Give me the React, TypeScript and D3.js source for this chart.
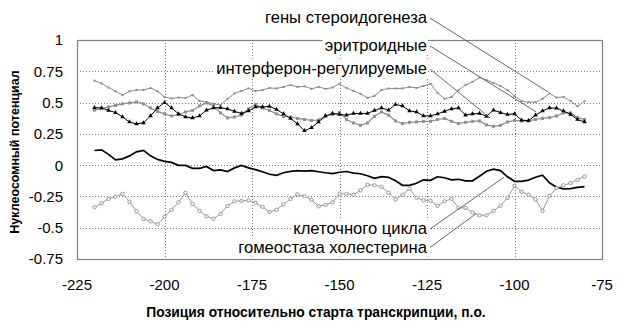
import React, { useEffect, useRef } from 'react';
import * as d3 from 'd3';

const W = 622;
const H = 326;

const positions = d3.range(-220, -79, 2);

const steroidValues = [
  0.675, 0.653, 0.62, 0.59, 0.56, 0.59, 0.6, 0.6, 0.617, 0.59,
  0.545, 0.533, 0.54, 0.537, 0.56, 0.513, 0.505, 0.49, 0.48, 0.53,
  0.573, 0.593, 0.613, 0.593, 0.6, 0.617, 0.613, 0.625, 0.64, 0.625,
  0.63, 0.61, 0.625, 0.61, 0.62, 0.65, 0.617, 0.593, 0.57, 0.537,
  0.553, 0.6, 0.613, 0.613, 0.613, 0.625, 0.617, 0.633, 0.65, 0.577,
  0.53, 0.545, 0.6, 0.64, 0.665, 0.7, 0.68, 0.657, 0.633, 0.6,
  0.553, 0.513, 0.503, 0.503, 0.53, 0.573, 0.54, 0.545, 0.513, 0.47,
  0.51,
];

const erythroidValues = [
  0.46, 0.457, 0.437, 0.42, 0.385, 0.345, 0.33, 0.338, 0.393, 0.457,
  0.5, 0.457, 0.41, 0.385, 0.377, 0.393, 0.44, 0.457, 0.46, 0.45,
  0.43, 0.413, 0.433, 0.465, 0.465, 0.47, 0.445, 0.41, 0.373, 0.33,
  0.275, 0.3, 0.345, 0.393, 0.413, 0.405, 0.4, 0.413, 0.413, 0.413,
  0.437, 0.457, 0.44, 0.485, 0.473, 0.433, 0.425, 0.393, 0.393, 0.41,
  0.43, 0.45, 0.457, 0.4, 0.41, 0.413, 0.39, 0.44, 0.42, 0.405,
  0.41, 0.36, 0.355, 0.4, 0.433, 0.457, 0.455, 0.433, 0.405, 0.365,
  0.345,
];

const interferonValues = [
  0.44, 0.452, 0.465, 0.477, 0.49, 0.497, 0.505, 0.49, 0.457, 0.43,
  0.41, 0.393, 0.405, 0.425, 0.437, 0.473, 0.497, 0.473, 0.418, 0.377,
  0.385, 0.4, 0.45, 0.485, 0.457, 0.437, 0.41, 0.39, 0.385, 0.373,
  0.365, 0.357, 0.36, 0.393, 0.405, 0.42, 0.365, 0.337, 0.318, 0.337,
  0.39, 0.425, 0.4, 0.353, 0.333, 0.342, 0.345, 0.35, 0.35, 0.365,
  0.373, 0.35, 0.333, 0.342, 0.35, 0.353, 0.322, 0.31, 0.318, 0.345,
  0.357, 0.353, 0.353, 0.365, 0.373, 0.38, 0.393, 0.418, 0.418, 0.38,
  0.365,
];

const cellCycleValues = [
  0.117, 0.122, 0.086, 0.042, 0.05, 0.074, 0.106, 0.118, 0.074, 0.046,
  0.03, 0.022, -0.002, -0.002, -0.026, -0.026, -0.01, -0.043, -0.038, -0.051,
  -0.022, -0.002, -0.022, -0.036, -0.053, -0.073, -0.081, -0.061, -0.05, -0.044,
  -0.047, -0.044, -0.053, -0.061, -0.068, -0.057, -0.051, -0.064, -0.069, -0.085,
  -0.105, -0.092, -0.097, -0.125, -0.161, -0.161, -0.145, -0.117, -0.121, -0.093,
  -0.101, -0.117, -0.113, -0.125, -0.125, -0.089, -0.049, -0.032, -0.044, -0.093,
  -0.129, -0.129, -0.12, -0.097, -0.081, -0.141, -0.177, -0.189, -0.187, -0.177,
  -0.171,
];

const cholesterolValues = [
  -0.337, -0.305, -0.269, -0.253, -0.229, -0.293, -0.369, -0.429, -0.449, -0.472,
  -0.413, -0.357, -0.297, -0.221, -0.309, -0.365, -0.409, -0.429, -0.389, -0.325,
  -0.289, -0.285, -0.281, -0.301, -0.333, -0.373, -0.357, -0.313, -0.269, -0.233,
  -0.249, -0.277, -0.329, -0.317, -0.297, -0.229, -0.229, -0.237, -0.201, -0.157,
  -0.161, -0.173, -0.221, -0.273, -0.237, -0.189, -0.261, -0.281, -0.285, -0.325,
  -0.289, -0.269, -0.341, -0.341, -0.377, -0.401, -0.401, -0.365, -0.325, -0.261,
  -0.165, -0.213, -0.237, -0.273, -0.365, -0.245, -0.185, -0.161, -0.143, -0.117,
  -0.091,
];

const xTicks = [-225, -200, -175, -150, -125, -100, -75];
const yTicks = [-0.75, -0.5, -0.25, 0, 0.25, 0.5, 0.75, 1];
const yTickLabels = ['-0.75', '-0.5', '-0.25', '0', '0.25', '0.5', '0.75', '1'];

const labelTexts = [
  'гены стероидогенеза',
  'эритроидные',
  'интерферон-регулируемые',
  'клеточного цикла',
  'гомеостаза холестерина',
];
// leader line targets in data coordinates [position, value]
const leaderTargets: [number, number][] = [
  [-90.4, 0.585],
  [-93.8, 0.425],
  [-107, 0.377],
  [-103, -0.097],
  [-111, -0.388],
];

const xTitle = 'Позиция относительно старта транскрипции, п.о.';
const yTitle = 'Нуклеосомный потенциал';

const FONT = "'Liberation Sans', Arial, sans-serif";

export default function App() {
  const ref = useRef<SVGSVGElement>(null);

  useEffect(() => {
    const svg = d3.select(ref.current);
    svg.selectAll('*').remove();

    const left = 77, right = 602, top = 40, bottom = 259;
    const x = d3.scaleLinear().domain([-225, -75]).range([left, right]);
    const y = d3.scaleLinear().domain([-0.75, 1]).range([bottom, top]);

    svg.append('rect').attr('width', W).attr('height', H).attr('fill', '#fff');

    // gridlines
    const grid = svg.append('g').attr('stroke', '#7a7a7a').attr('stroke-width', 1).attr('stroke-dasharray', '1,2');
    yTicks.slice(1, -1).forEach((t) => {
      grid.append('line').attr('x1', left).attr('x2', right)
        .attr('y1', Math.round(y(t)) + 0.5).attr('y2', Math.round(y(t)) + 0.5);
    });
    xTicks.slice(1, -1).forEach((t) => {
      grid.append('line').attr('y1', top).attr('y2', bottom)
        .attr('x1', Math.round(x(t)) + 0.5).attr('x2', Math.round(x(t)) + 0.5);
    });

    // frame
    svg.append('rect')
      .attr('x', left + 0.5).attr('y', top + 0.5)
      .attr('width', right - left).attr('height', bottom - top)
      .attr('fill', 'none').attr('stroke', '#808080').attr('stroke-width', 1.2);

    // tick labels
    const yAxisG = svg.append('g').attr('font-family', FONT).attr('font-size', 15).attr('fill', '#000');
    yTicks.forEach((t, i) => {
      yAxisG.append('text').attr('x', 63).attr('y', y(t)).attr('dy', '0.36em')
        .attr('text-anchor', 'end').text(yTickLabels[i]);
    });
    const xAxisG = svg.append('g').attr('font-family', FONT).attr('font-size', 15).attr('fill', '#000');
    xTicks.forEach((t) => {
      xAxisG.append('text').attr('x', x(t)).attr('y', 290)
        .attr('text-anchor', 'middle').text(String(t));
    });

    // titles
    svg.append('text').attr('x', 316).attr('y', 317).attr('text-anchor', 'middle')
      .attr('font-family', FONT).attr('font-weight', 'bold').attr('font-size', 13.8).text(xTitle);
    svg.append('text').attr('transform', 'translate(18.5,152) rotate(-90)').attr('text-anchor', 'middle')
      .attr('font-family', FONT).attr('font-weight', 'bold').attr('font-size', 12.5).text(yTitle);

    const line = (vals: number[]) =>
      d3.line<number>().x((_, i) => x(positions[i])).y((v) => y(v))(vals) as string;

    // steroid
    svg.append('path').attr('d', line(steroidValues)).attr('fill', 'none')
      .attr('stroke', '#8a8a8a').attr('stroke-width', 1);
    svg.append('g').selectAll('rect').data(steroidValues).join('rect')
      .attr('x', (_, i) => x(positions[i]) - 1).attr('y', (v) => y(v) - 1)
      .attr('width', 2).attr('height', 2).attr('fill', '#8a8a8a');

    // interferon (grey squares)
    svg.append('path').attr('d', line(interferonValues)).attr('fill', 'none')
      .attr('stroke', '#8a8a8a').attr('stroke-width', 1.2);
    svg.append('g').selectAll('rect').data(interferonValues).join('rect')
      .attr('x', (_, i) => x(positions[i]) - 1.5).attr('y', (v) => y(v) - 1.5)
      .attr('width', 3).attr('height', 3).attr('fill', '#909090');

    // erythroid (black triangles)
    svg.append('path').attr('d', line(erythroidValues)).attr('fill', 'none')
      .attr('stroke', '#000').attr('stroke-width', 1);
    const tri = d3.symbol().type(d3.symbolTriangle).size(9)();
    svg.append('g').selectAll('path').data(erythroidValues).join('path')
      .attr('d', tri as string)
      .attr('transform', (v, i) => `translate(${x(positions[i])},${y(v)})`)
      .attr('fill', '#000');

    // cell cycle (black line)
    svg.append('path').attr('d', line(cellCycleValues)).attr('fill', 'none')
      .attr('stroke', '#000').attr('stroke-width', 1.7);

    // cholesterol (grey circles)
    svg.append('path').attr('d', line(cholesterolValues)).attr('fill', 'none')
      .attr('stroke', '#9a9a9a').attr('stroke-width', 1);
    svg.append('g').selectAll('circle').data(cholesterolValues).join('circle')
      .attr('cx', (_, i) => x(positions[i])).attr('cy', (v) => y(v)).attr('r', 1.7)
      .attr('fill', '#fff').attr('stroke', '#8a8a8a').attr('stroke-width', 0.9);

    // annotation labels with white boxes
    const labelEndX = 427;
    const labelBaselines = [23, 51, 74, 234, 252.5];
    const lg = svg.append('g');
    labelTexts.forEach((txt, i) => {
      const boxG = lg.append('g');
      const t = lg.append('text').attr('x', labelEndX).attr('y', labelBaselines[i])
        .attr('text-anchor', 'end').attr('font-family', FONT).attr('font-size', 16.6)
        .attr('fill', '#000').text(txt);
      const bb = (t.node() as SVGTextElement).getBBox();
      boxG.append('rect').attr('x', bb.x - 2).attr('y', bb.y + 1).attr('width', bb.width + 3)
        .attr('height', bb.height - 1).attr('fill', '#fff');
      const [px, pv] = leaderTargets[i];
      lg.append('line').attr('x1', labelEndX + 3).attr('y1', labelBaselines[i] - 5)
        .attr('x2', x(px)).attr('y2', y(pv)).attr('stroke', '#555').attr('stroke-width', 0.9);
    });
  }, []);

  return (
    <svg ref={ref} width={W} height={H} style={{ position: 'absolute', left: 0, top: 0 }} />
  );
}
